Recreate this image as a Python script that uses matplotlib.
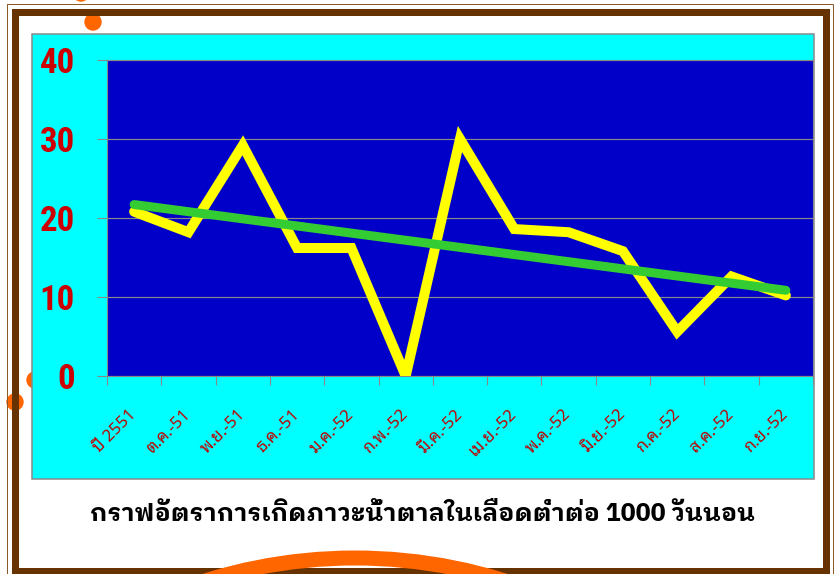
import numpy as np
import matplotlib
matplotlib.use("Agg")
import matplotlib.pyplot as plt
from matplotlib.patches import Rectangle, Circle

W, H = 840, 574
PX = 72 / 100  # points per pixel at dpi 100

# ── data ──────────────────────────────────────────────────────────────────────
months = ["ปี 2551", "ต.ค.-51", "พ.ย.-51", "ธ.ค.-51", "ม.ค.-52", "ก.พ.-52", "มี.ค.-52",
          "เม.ย.-52", "พ.ค.-52", "มิ.ย.-52", "ก.ค.-52", "ส.ค.-52", "ก.ย.-52"]
rate = [20.8, 18.2, 29.2, 16.2, 16.2, 0.0, 30.0, 18.6, 18.2, 15.8, 5.6, 12.6, 10.2]
y_ticks = [0, 10, 20, 30, 40]
title = "กราฟอัตราการเกิดภาวะน้ำตาลในเลือดต่ำต่อ 1000 วันนอน"

THAI = ["Noto Sans Thai Looped", "IBM Plex Sans Thai Looped", "Sarabun", "DejaVu Sans"]
THAI_BOLD = ["IBM Plex Sans Thai Looped", "Noto Sans Thai Looped", "Sarabun", "DejaVu Sans"]
NARROW = ["Liberation Sans Narrow", "Roboto Condensed", "DejaVu Sans"]

fig = plt.figure(figsize=(W / 100, H / 100), dpi=100)

# ── slide decorations (pixel coordinates) ─────────────────────────────────────
bg = fig.add_axes([0, 0, 1, 1])
bg.set_xlim(0, W)
bg.set_ylim(H, 0)
bg.axis("off")

for cx, cy in [(81, -7), (93, 22), (35, 380), (15, 402)]:
    bg.add_patch(Circle((cx, cy), 8, color="#FF6600", zorder=1))
bg.add_patch(Rectangle((7, 4), 826, 600, fill=False, ec="#8B5A2B", lw=1 * PX, zorder=2))
bg.add_patch(Rectangle((14.5, 12), 811.5, 558.5, fill=False, ec="#663300", lw=7 * PX, zorder=2))
bg.add_patch(Circle((355, 1060), 502, fill=False, ec="#FF6600", lw=15 * PX, zorder=3))
bg.add_patch(Rectangle((32, 34), 782, 445, fc="#00FFFF", ec="#888888", lw=1.5 * PX, zorder=4))

# ── chart ─────────────────────────────────────────────────────────────────────
ax = fig.add_axes([107 / W, 1 - 376 / H, 706 / W, 316 / H])
ax.set_facecolor("#0000C8")

x = np.arange(len(months))
ax.plot(x, rate, color="#FFFF00", lw=10 * PX, solid_joinstyle="miter",
        solid_capstyle="round", zorder=3)
k, b = np.polyfit(x, rate, 1)
ends = x[[0, -1]]
ax.plot(ends, k * ends + b, color="#33CC33", lw=9 * PX, solid_capstyle="round", zorder=4)

ax.set_xlim(-0.5, len(months) - 0.5)
ax.set_ylim(0, 40)
ax.set_yticks(y_ticks)
ax.yaxis.grid(True, color="#888888", lw=1.2 * PX)
ax.set_axisbelow(True)

ax.set_xticks(np.arange(-0.5, len(months)), labels=[])
ax.set_xticks(x, labels=months, minor=True)
ax.tick_params(axis="x", which="major", length=9 * PX, color="#888888")
ax.tick_params(axis="x", which="minor", length=0, pad=26)
ax.tick_params(axis="y", length=10 * PX, color="#888888", pad=15.8)

for lab in ax.get_yticklabels():
    lab.set_fontfamily(NARROW)
    lab.set_fontsize(25)
    lab.set_fontweight("bold")
    lab.set_color("#CC0000")
for lab in ax.get_xticklabels(minor=True):
    lab.set_fontfamily(THAI)
    lab.set_fontsize(12)
    lab.set_color("#C00000")
    lab.set_rotation(45)
    lab.set_ha("right")
    lab.set_va("center")
    lab.set_rotation_mode("anchor")

for sp in ax.spines.values():
    sp.set_color("#888888")

fig.text(423 / W, 1 - 514 / H, title, ha="center", va="center", fontsize=18,
         fontweight="bold", family=THAI_BOLD, color="black")

fig.savefig("out.png", dpi=100)
